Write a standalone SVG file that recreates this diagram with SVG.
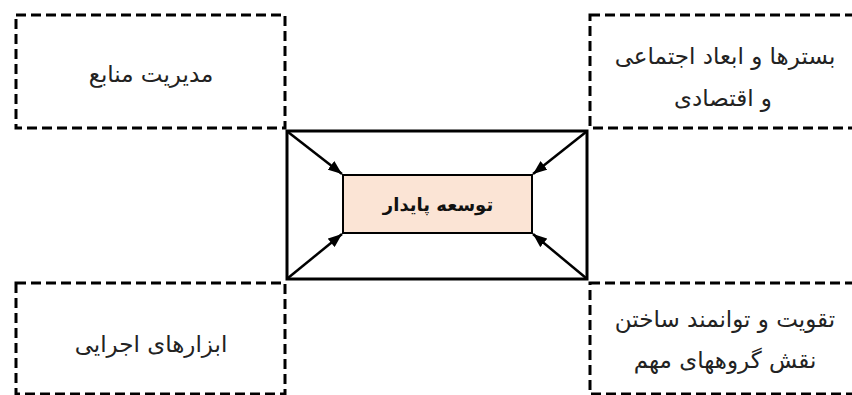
<svg xmlns="http://www.w3.org/2000/svg" width="852" height="395" viewBox="0 0 852 395">
<defs>
<marker id="ah" viewBox="0 0 14 11" refX="14" refY="5.5" markerWidth="14" markerHeight="11" orient="auto" markerUnits="userSpaceOnUse"><path d="M0,0 L14,5.5 L0,11 z" fill="#000"/></marker>
<style>
.dash{fill:none;stroke:#000;stroke-width:3;stroke-dasharray:10 5}
.lbl{font-family:"DejaVu Sans","Noto Sans",sans-serif;font-size:23px;fill:#222;text-anchor:middle}
.arr{stroke:#000;stroke-width:2.5;fill:none;marker-end:url(#ah)}
</style>
</defs>
<rect width="852" height="395" fill="#fff"/>
<g id="n-resources">
<rect class="dash" x="16" y="15" width="269" height="113"/>
<text class="lbl" x="151" y="82" direction="rtl">مدیریت منابع</text>
</g>
<g id="n-social">
<rect class="dash" x="590" y="15" width="280" height="113"/>
<text class="lbl" x="725" y="64" direction="rtl">بسترها و ابعاد اجتماعی</text>
<text class="lbl" x="723" y="106" direction="rtl">و اقتصادی</text>
</g>
<g id="n-tools">
<rect class="dash" x="16" y="283" width="269" height="111"/>
<text class="lbl" x="151" y="352" direction="rtl">ابزارهای اجرایی</text>
</g>
<g id="n-groups">
<rect class="dash" x="590" y="283" width="280" height="111"/>
<text class="lbl" x="725" y="327" direction="rtl">تقویت و توانمند ساختن</text>
<text class="lbl" x="725" y="368" direction="rtl">نقش گروههای مهم</text>
</g>
<g id="n-frame">
<rect x="287" y="131" width="300" height="148" fill="none" stroke="#000" stroke-width="3"/>
</g>
<g id="n-center">
<rect x="343" y="175" width="189" height="58" fill="#fbe4d5" stroke="#000" stroke-width="2"/>
<text x="438" y="211" font-family="DejaVu Sans, sans-serif" font-size="18" font-weight="bold" text-anchor="middle" direction="rtl" fill="#111">توسعه پایدار</text>
</g>
<g id="connectors">
<line class="arr" x1="288" y1="132" x2="342" y2="174"/>
<line class="arr" x1="586" y1="132" x2="533" y2="174"/>
<line class="arr" x1="288" y1="278" x2="342" y2="234"/>
<line class="arr" x1="586" y1="278" x2="533" y2="234"/>
</g>
</svg>
